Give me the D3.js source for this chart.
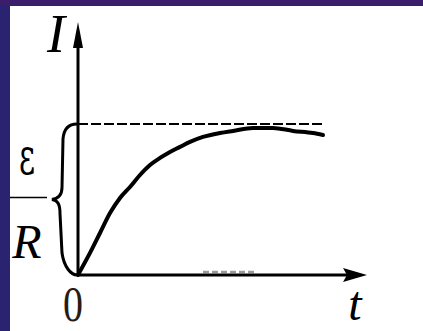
<!DOCTYPE html>
<html>
<head>
<meta charset="utf-8">
<script src="https://cdn.jsdelivr.net/npm/d3@7"></script>
<style>
  html, body { margin: 0; padding: 0; background: #ffffff; overflow: hidden; }
  svg { display: block; }
</style>
</head>
<body>
<script>
// Charging current of an RL circuit: I rises from 0 towards the limit ε/R.
const tValues = [0, 0.24, 0.44, 0.64, 0.84, 1.04, 1.24, 1.44, 1.64, 1.84, 2.04, 2.24, 2.5, 2.84, 3.1, 3.5, 3.9, 4.3, 4.7, 4.9];
const iValues = [0, 0.146, 0.278, 0.41, 0.51, 0.583, 0.662, 0.728, 0.775, 0.815, 0.848, 0.881, 0.914, 0.94, 0.954, 0.974, 0.974, 0.954, 0.94, 0.927];
const limitValue = [1];          // ε/R level (dashed asymptote)
const limitEnd = [4.9];          // t where the dashed line stops
const axisLabels = ["I", "t", "0"];

const W = 423, H = 331;
const svg = d3.select("body").append("svg").attr("width", W).attr("height", H);

// frame: white drawing panel with a dark band on the left and top
svg.append("rect").attr("width", W).attr("height", H).attr("fill", "#ffffff");
svg.append("rect").attr("width", 10).attr("height", H).attr("fill", "#2a2470");
svg.append("rect").attr("width", W).attr("height", 6).attr("fill", "#3a1e6b");

const x = d3.scaleLinear().domain([0, 5.78]).range([78, 367]);
const y = d3.scaleLinear().domain([0, 1.675]).range([275, 22]);

const ink = "#000";
const x0 = x(0), y0 = y(0);

// faint smudge on the time axis
svg.append("line")
  .attr("x1", x(2.5)).attr("x2", x(3.58)).attr("y1", y0 - 3).attr("y2", y0 - 3)
  .attr("stroke", "#9a9a9a").attr("stroke-width", 2.5).attr("stroke-dasharray", "6,3");

// axes
svg.append("line").attr("x1", x0).attr("x2", x0).attr("y1", y0 + 1).attr("y2", y(1.675) + 20)
  .attr("stroke", ink).attr("stroke-width", 3);
svg.append("line").attr("x1", x0 - 1).attr("x2", x(5.78) - 18).attr("y1", y0).attr("y2", y0)
  .attr("stroke", ink).attr("stroke-width", 3);

// arrow heads
const yTop = y(1.675), xEnd = x(5.78);
svg.append("path")
  .attr("d", `M${x0},${yTop} L${x0 + 5},${yTop + 26} L${x0 - 5},${yTop + 26} Z`)
  .attr("fill", ink);
svg.append("path")
  .attr("d", `M${xEnd},${y0} L${xEnd - 24},${y0 - 7} L${xEnd - 20},${y0} L${xEnd - 24},${y0 + 7} Z`)
  .attr("fill", ink);

// asymptote ε/R
svg.append("line")
  .attr("x1", x0).attr("x2", x(limitEnd[0]))
  .attr("y1", y(limitValue[0])).attr("y2", y(limitValue[0]))
  .attr("stroke", ink).attr("stroke-width", 2).attr("stroke-dasharray", "10,3");

// current curve
const pts = tValues.map((t, i) => [t, iValues[i]]);
svg.append("path")
  .datum(pts)
  .attr("d", d3.line().x(d => x(d[0])).y(d => y(d[1])).curve(d3.curveMonotoneX))
  .attr("fill", "none").attr("stroke", ink).attr("stroke-width", 4)
  .attr("stroke-linecap", "round");

// brace spanning 0 … ε/R
const braceTop = y(limitValue[0]), braceBot = y0, braceMid = (braceTop + braceBot) / 2;
svg.append("path")
  .attr("d", `M${x0 - 1},${braceTop}
    C${x0 - 7},${braceTop} ${x0 - 14},${braceTop + 3} ${x0 - 15},${braceTop + 15}
    L${x0 - 16},${braceMid - 12}
    C${x0 - 16},${braceMid - 4} ${x0 - 20},${braceMid - 1} ${x0 - 26},${braceMid}
    C${x0 - 20},${braceMid + 1} ${x0 - 18},${braceMid + 5} ${x0 - 18},${braceMid + 14}
    L${x0 - 16},${braceBot - 22}
    C${x0 - 14},${braceBot - 8} ${x0 - 7},${braceBot} ${x0 - 1},${braceBot}`)
  .attr("fill", "none").attr("stroke", ink).attr("stroke-width", 3);

// fraction ε / R
svg.append("line").attr("x1", 10).attr("x2", 47).attr("y1", braceMid - 2).attr("y2", braceMid - 2)
  .attr("stroke", ink).attr("stroke-width", 1.5);
svg.append("text")
  .attr("transform", `translate(27,${braceMid - 25}) scale(0.62,1.05)`)
  .attr("text-anchor", "middle")
  .attr("font-family", "DejaVu Serif, serif").attr("font-size", 50)
  .attr("fill", ink).text("ε");
svg.append("text")
  .attr("x", 27).attr("y", braceBot - 17)
  .attr("text-anchor", "middle")
  .attr("font-family", "Liberation Serif, serif").attr("font-style", "italic").attr("font-size", 48)
  .attr("fill", ink).text("R");

// axis labels
svg.append("text")
  .attr("x", 56).attr("y", 52)
  .attr("text-anchor", "middle")
  .attr("font-family", "Liberation Serif, serif").attr("font-style", "italic").attr("font-size", 54)
  .attr("fill", ink).text(axisLabels[0]);
svg.append("text")
  .attr("x", x(5.54)).attr("y", 320)
  .attr("text-anchor", "middle")
  .attr("font-family", "Liberation Serif, serif").attr("font-style", "italic").attr("font-size", 48)
  .attr("fill", ink).text(axisLabels[1]);
svg.append("text")
  .attr("transform", `translate(${x0 - 5},321) scale(0.8,1)`)
  .attr("text-anchor", "middle")
  .attr("font-family", "Liberation Serif, serif").attr("font-size", 50)
  .attr("fill", "#2a1a10").text(axisLabels[2]);
</script>
</body>
</html>
